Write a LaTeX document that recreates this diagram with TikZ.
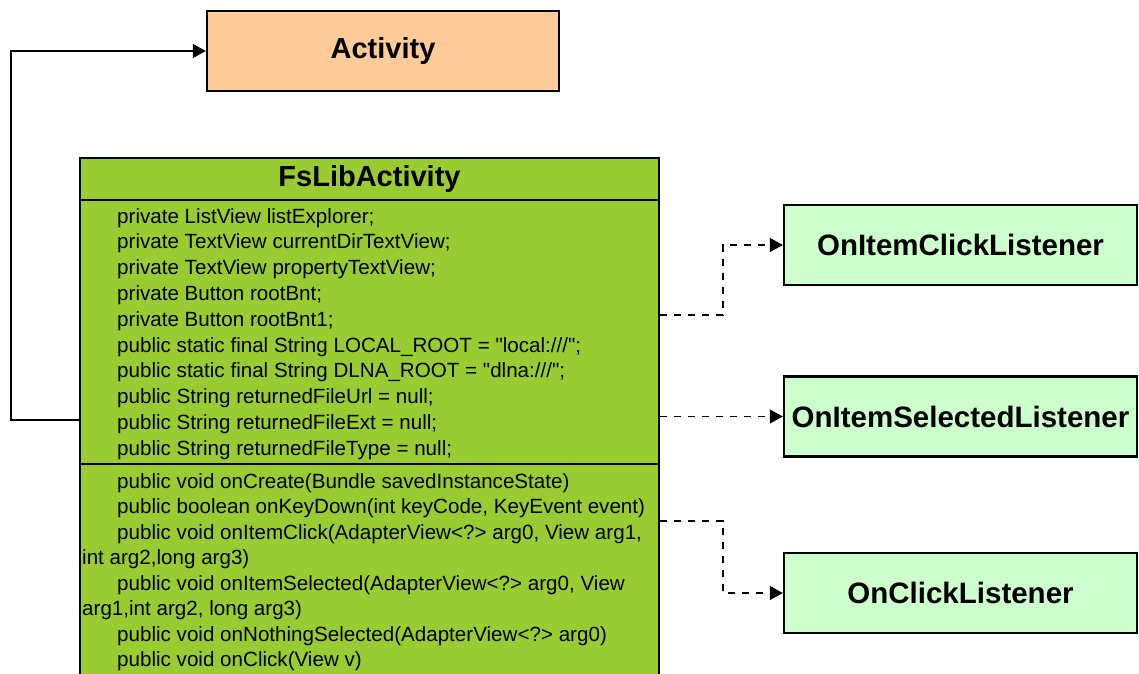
\documentclass[tikz,border=0pt]{standalone}
\usepackage{fontspec}
\setmainfont{Liberation Sans}
% member lines keep straight ASCII quotes
\newfontfamily\memfont{Liberation Sans}
\usetikzlibrary{arrows.meta}
\definecolor{actfill}{HTML}{FFCC99}
\definecolor{clsfill}{HTML}{99CC33}
\definecolor{ifcfill}{HTML}{CCFFCC}
% one member line of the class box, placed by its baseline
\newcommand\memline[4]{\node[member] (#1) at (#2,#3) {#4};}
\begin{document}
\begin{tikzpicture}[x=1pt,y=-1pt,
  box/.style={draw=black,line width=2.4pt,rectangle,inner sep=0pt},
  classtitle/.style={box,fill=clsfill,minimum width=579pt,font=\fontsize{29}{32}\selectfont\bfseries},
  classpart/.style={box,fill=clsfill,minimum width=579pt},
  iface/.style={box,fill=ifcfill,minimum width=353pt,minimum height=80pt,font=\fontsize{29.5}{32}\selectfont\bfseries},
  member/.style={anchor=base west,inner sep=0pt,font=\memfont\fontsize{20.6}{24}\selectfont},
  inherit/.style={draw=black,line width=1.2pt,-{Triangle[length=13pt,width=14pt]}},
  realize/.style={draw=black,line width=1.2pt,dash pattern=on 7pt off 7pt,-{Triangle[length=13pt,width=14pt]}}]
\useasboundingbox (0,0) rectangle (1139,673);

% superclass
\node[box,fill=actfill,minimum width=352pt,minimum height=80pt,
      font=\fontsize{29}{32}\selectfont\bfseries] (activity) at (383,51) {Activity};

% class box: title, attributes, operations
\node[classpart,minimum height=230pt] (fsmeth) at (369.5,579) {};
\node[classpart,minimum height=264pt] (fsattr) at (369.5,332) {};
\node[classtitle,minimum height=42pt] (fstitle) at (369.5,179) {FsLibActivity};

\memline{a0}{117}{223}{private ListView listExplorer;}
\memline{a1}{117}{248.8}{private TextView currentDirTextView;}
\memline{a2}{117}{274.6}{private TextView propertyTextView;}
\memline{a3}{117}{300.4}{private Button rootBnt;}
\memline{a4}{117}{326.2}{private Button rootBnt1;}
\memline{a5}{117}{352}{public static final String LOCAL\_ROOT = "local:///";}
\memline{a6}{117}{377.8}{public static final String DLNA\_ROOT = "dlna:///";}
\memline{a7}{117}{403.6}{public String returnedFileUrl = null;}
\memline{a8}{117}{429.4}{public String returnedFileExt = null;}
\memline{a9}{117}{455.2}{public String returnedFileType = null;}

\memline{m0}{117}{488}{public void onCreate(Bundle savedInstanceState)}
\memline{m1}{117}{513.5}{public boolean onKeyDown(int keyCode, KeyEvent event)}
\memline{m2}{117}{539}{public void onItemClick(AdapterView<?> arg0, View arg1,}
\memline{m3}{82}{564.5}{int arg2,long arg3)}
\memline{m4}{117}{590}{public void onItemSelected(AdapterView<?> arg0, View}
\memline{m5}{82}{615.5}{arg1,int arg2, long arg3)}
\memline{m6}{117}{641}{public void onNothingSelected(AdapterView<?> arg0)}
\memline{m7}{117}{666.5}{public void onClick(View v)}

% interfaces
\node[iface] (oicl) at (960.5,245) {OnItemClickListener};
\node[iface] (oisl) at (960.5,416.5) {OnItemSelectedListener};
\node[iface] (ocl)  at (960.5,593) {OnClickListener};

% generalization
\draw[inherit] (fsattr.west |- 0,420) -- (11,420) |- (activity.west);

% realizations
\draw[realize] (fsattr.east |- 0,315) -- (723,315) |- (oicl.west);
\draw[realize] (fsattr.east |- oisl.west) -- (oisl.west);
\draw[realize] (fsmeth.east |- 0,521) -- (723,521) |- (ocl.west);
\end{tikzpicture}
\end{document}
